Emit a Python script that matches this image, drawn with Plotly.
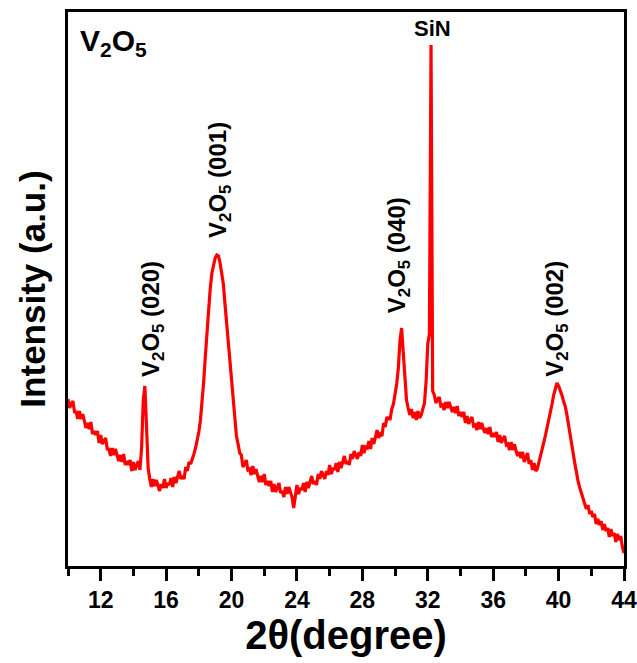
import plotly.graph_objects as go

# 2-theta sampling (degrees), 0.1 deg step
two_theta_start = 10.0
two_theta_step = 0.1

intensity_10_15 = [
    167, 158, 162, 165, 154, 154, 147, 155, 147, 152,   # 10.0-10.9
    145, 138, 143, 137, 144, 132, 135, 131, 135, 123,   # 11.0-11.9
    131, 122, 125, 128, 117, 117, 110, 118, 111, 117,   # 12.0-12.9
    111, 105, 111, 104, 112, 101, 105, 101, 106, 95,    # 13.0-13.9
    104, 96, 101, 105, 96, 118, 165, 180, 140, 98,      # 14.0-14.9
]
intensity_15_20 = [
    87, 79, 87, 80, 86, 80, 75, 82, 78, 87,             # 15.0-15.9
    78, 83, 81, 88, 79, 89, 83, 89, 95, 87,             # 16.0-16.9
    90, 87, 99, 95, 104, 102, 106, 112, 118, 126,       # 17.0-17.9
    134, 146, 162, 185, 210, 236, 258, 278, 293, 302,   # 18.0-18.9
    308, 311, 310, 303, 293, 282, 262, 243, 224, 200,   # 19.0-19.9
]
intensity_20_25 = [
    178, 160, 145, 130, 122, 113, 111, 99, 102, 106,    # 20.0-20.9
    96, 97, 91, 100, 92, 97, 90, 84, 90, 84,            # 21.0-21.9
    92, 81, 85, 80, 85, 74, 82, 74, 78, 83,             # 22.0-22.9
    73, 75, 69, 79, 72, 79, 74, 69, 58, 72,             # 23.0-23.9
    81, 72, 78, 76, 83, 74, 84, 78, 84, 90,             # 24.0-24.9
]
intensity_25_30 = [
    82, 85, 81, 92, 87, 95, 91, 87, 95, 91,             # 25.0-25.9
    101, 92, 98, 96, 103, 94, 104, 98, 104, 110,        # 26.0-26.9
    102, 105, 101, 112, 107, 115, 111, 107, 114, 110,   # 27.0-27.9
    121, 113, 119, 118, 125, 117, 128, 122, 129, 136,   # 28.0-28.9
    128, 132, 130, 143, 139, 149, 147, 147, 157, 162,   # 29.0-29.9
]
intensity_30_35 = [
    172, 182, 198, 225, 238, 215, 184, 166, 158, 151,   # 30.0-30.9
    157, 148, 154, 146, 155, 148, 151, 156, 163, 185,   # 31.0-31.9
    222, 232, 521, 175, 171, 163, 166, 169, 160, 161,   # 32.0-32.9
    156, 164, 158, 164, 159, 154, 159, 153, 160, 150,   # 33.0-33.9
    154, 149, 154, 143, 150, 142, 146, 149, 140, 141,   # 34.0-34.9
]
intensity_35_40 = [
    136, 144, 137, 143, 137, 133, 138, 132, 139, 129,   # 35.0-35.9
    133, 129, 134, 124, 131, 123, 127, 130, 121, 122,   # 36.0-36.9
    116, 124, 116, 122, 115, 110, 114, 108, 114, 104,   # 37.0-37.9
    108, 113, 102, 106, 96, 103, 95, 97, 104, 110,      # 38.0-38.9
    116, 124, 131, 138, 146, 153, 162, 171, 178, 183,   # 39.0-39.9
]
intensity_40_44 = [
    180, 176, 171, 165, 160, 152, 143, 133, 123, 112,   # 40.0-40.9
    102, 92, 84, 78, 72, 67, 62, 57, 61, 52,            # 41.0-41.9
    55, 49, 52, 42, 47, 41, 45, 36, 42, 35,             # 42.0-42.9
    38, 29, 37, 30, 33, 24, 32, 26, 30, 19,             # 43.0-43.9
    13,                                                 # 44.0
]

intensity = (intensity_10_15 + intensity_15_20 + intensity_20_25 + intensity_25_30
             + intensity_30_35 + intensity_35_40 + intensity_40_44)
two_theta = [round(two_theta_start + i * two_theta_step, 2) for i in range(len(intensity))]

x_ticks = [12, 16, 20, 24, 28, 32, 36, 40, 44]
x_minor_ticks = [10, 14, 18, 22, 26, 30, 34, 38, 42]

# peak labels: (2theta position, paper y of label centre, text)
peak_labels = [
    (15.2, 0.446, "V<sub>2</sub>O<sub>5</sub> (020)"),
    (19.3, 0.697, "V<sub>2</sub>O<sub>5</sub> (001)"),
    (30.18, 0.561, "V<sub>2</sub>O<sub>5</sub> (040)"),
    (39.9, 0.446, "V<sub>2</sub>O<sub>5</sub> (002)"),
]

FONT = "Liberation Sans, Arial, sans-serif"

fig = go.Figure()
fig.add_trace(go.Scatter(
    x=two_theta, y=intensity, mode="lines",
    line=dict(color="#ff0000", width=3.2),
    showlegend=False, hoverinfo="skip",
))

annotations = []
for x, y, txt in peak_labels:
    annotations.append(dict(
        x=x, y=y, xref="x", yref="paper", text="<b>" + txt + "</b>",
        textangle=-90, showarrow=False, xanchor="center", yanchor="middle",
        font=dict(family=FONT, size=24, color="black"),
    ))
annotations.append(dict(
    x=32.26, y=0.971, xref="x", yref="paper", text="<b>SiN</b>",
    showarrow=False, xanchor="center", yanchor="middle",
    font=dict(family=FONT, size=22, color="black"),
))
annotations.append(dict(
    x=0.018, y=0.945, xref="paper", yref="paper",
    text="<b>V<sub>2</sub>O<sub>5</sub></b>",
    showarrow=False, xanchor="left", yanchor="middle",
    font=dict(family=FONT, size=30, color="black"),
))

fig.update_layout(
    width=637, height=663,
    margin=dict(l=68, r=13, t=12, b=97),
    paper_bgcolor="white", plot_bgcolor="white",
    annotations=annotations,
    font=dict(family=FONT, color="black"),
)
fig.update_xaxes(
    range=[10, 44], tickvals=x_ticks, ticktext=[f"<b>{v}</b>" for v in x_ticks],
    ticks="outside", ticklen=12, tickwidth=2.5, tickcolor="black",
    minor=dict(tickvals=x_minor_ticks, ticklen=7,
               tickwidth=2.5, tickcolor="black", ticks="outside"),
    showline=True, linewidth=2.5, linecolor="black", mirror=True,
    showgrid=False, zeroline=False, automargin=False,
    tickfont=dict(family=FONT, size=23, color="black"),
    title=dict(text="<b>2θ(degree)</b>", font=dict(family=FONT, size=40, color="black"),
               standoff=4),
)
fig.update_yaxes(
    range=[0, 554], showticklabels=False, ticks="",
    showline=True, linewidth=2.5, linecolor="black", mirror=True,
    showgrid=False, zeroline=False, automargin=False,
    title=dict(text="<b>Intensity (a.u.)</b>", font=dict(family=FONT, size=35, color="black"),
               standoff=10),
)

fig.write_html("out.html")
